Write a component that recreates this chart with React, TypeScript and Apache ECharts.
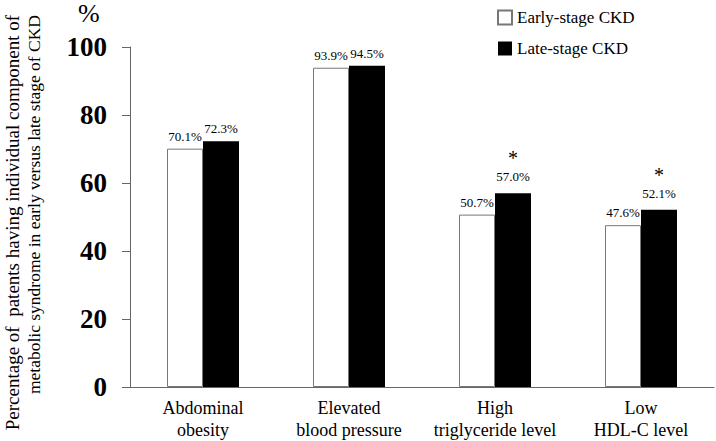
import React, { useEffect, useRef } from "react";
import * as echarts from "echarts";

const categories = ["Abdominal\nobesity", "Elevated\nblood pressure", "High\ntriglyceride level", "Low\nHDL-C level"];
const earlyValues = [70.1, 93.9, 50.7, 47.6];
const lateValues = [72.3, 94.5, 57.0, 52.1];
const significant = [false, false, true, true];
const yTicks = { min: 0, max: 100, interval: 20 };
const yTitle1 = "Percentage of  patents having individual component of";
const yTitle2 = "metabolic syndrome in early versus late stage of CKD";

const SERIF = "Liberation Serif, Times New Roman, serif";

export default function App() {
  const ref = useRef<HTMLDivElement>(null);
  useEffect(() => {
    if (!ref.current) return;
    const chart = echarts.init(ref.current, undefined, { renderer: "svg" });
    chart.setOption({
      animation: false,
      textStyle: { fontFamily: SERIF, color: "#000" },
      grid: { left: 130, right: 2, top: 47, bottom: 54, outerBoundsMode: "none", containLabel: false },
      legend: {
        orient: "vertical",
        left: 492,
        top: 4,
        itemWidth: 14,
        itemHeight: 14,
        itemGap: 14,
        icon: "rect",
        textStyle: { fontFamily: SERIF, fontSize: 17, color: "#000" },
        data: ["Early-stage CKD", "Late-stage CKD"],
      },
      xAxis: {
        type: "category",
        data: categories,
        axisLine: { lineStyle: { color: "#666", width: 1 } },
        axisTick: { show: false },
        axisLabel: { interval: 0, fontFamily: SERIF, fontSize: 18, color: "#000", margin: 10, lineHeight: 22 },
      },
      yAxis: {
        type: "value",
        min: yTicks.min,
        max: yTicks.max,
        interval: yTicks.interval,
        axisLine: { show: true, lineStyle: { color: "#666", width: 1 } },
        axisTick: { show: true, length: 8, lineStyle: { color: "#666" } },
        splitLine: { show: false },
        axisLabel: { fontFamily: SERIF, fontSize: 27, fontWeight: "bold", color: "#000", margin: 23 },
      },
      graphic: [
        { type: "text", left: 78, top: 0, style: { text: "%", fontFamily: SERIF, fontSize: 26, fill: "#000" } },
        {
          type: "text", x: 12, y: 15, rotation: Math.PI / 2,
          style: { text: yTitle1, fontFamily: SERIF, fontSize: 19, fill: "#000", align: "right", verticalAlign: "middle" },
        },
        {
          type: "text", x: 34, y: 15, rotation: Math.PI / 2,
          style: { text: yTitle2, fontFamily: SERIF, fontSize: 17.5, fill: "#000", align: "right", verticalAlign: "middle" },
        },
      ],
      series: [
        {
          name: "Early-stage CKD",
          type: "bar",
          data: earlyValues,
          barWidth: 36,
          barGap: "0%",
          itemStyle: { color: "#fff", borderColor: "#777", borderWidth: 1 },
          label: {
            show: true,
            position: "top",
            distance: 6,
            fontFamily: SERIF,
            fontSize: 13,
            color: "#000",
            formatter: (p: any) => p.value.toFixed(1) + "%",
          },
        },
        {
          name: "Late-stage CKD",
          type: "bar",
          data: lateValues.map((v, i) => ({
            value: v,
            label: { distance: significant[i] ? 10 : 6 },
          })),
          barWidth: 36,
          barGap: "0%",
          itemStyle: { color: "#000" },
          label: {
            show: true,
            position: "top",
            distance: 6,
            fontFamily: SERIF,
            fontSize: 13,
            color: "#000",
            formatter: (p: any) =>
              (significant[p.dataIndex] ? "{s|*}\n" : "") + "{v|" + p.value.toFixed(1) + "%}",
            rich: {
              s: { fontFamily: SERIF, fontSize: 20, lineHeight: 22, color: "#000", padding: [0, 0, 2, 0] },
              v: { fontFamily: SERIF, fontSize: 13, color: "#000" },
            },
          },
        },
      ],
    });
    return () => chart.dispose();
  }, []);
  return <div ref={ref} style={{ position: "absolute", left: 0, top: 0, width: 716, height: 441 }} />;
}
